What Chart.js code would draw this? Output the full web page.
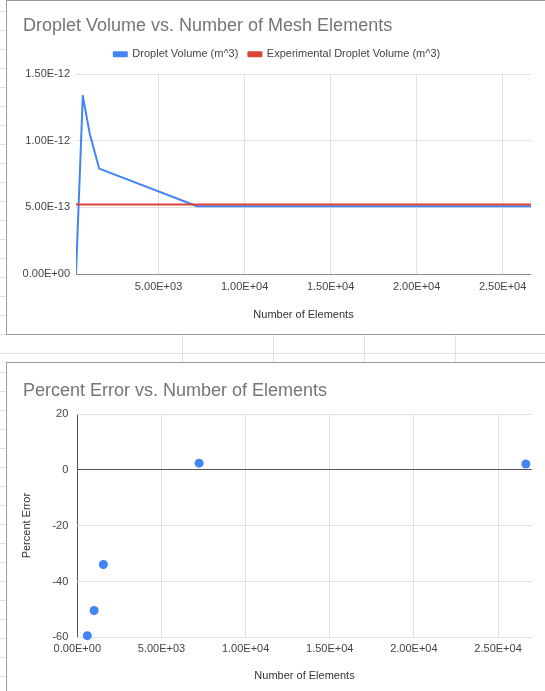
<!DOCTYPE html>
<html><head><meta charset="utf-8">
<script src="https://cdn.jsdelivr.net/npm/chart.js@4"></script>
<style>
html,body{margin:0;padding:0;width:545px;height:691px;overflow:hidden;background:#fff;position:relative;font-family:"Liberation Sans",Arial,sans-serif}
.hl{position:absolute;height:1px;background:#e2e2e2}
.vl{position:absolute;width:1px;background:#e2e2e2}
.card{position:absolute;left:6px;width:620px;border:1px solid #9a9a9a;background:#fff;box-sizing:border-box}
.card canvas{position:absolute;left:0;top:0}
</style></head>
<body>
<div id="bg"></div>
<div class="card" style="top:0;height:335px"><canvas id="c1" width="538" height="332"></canvas></div>
<div class="card" style="top:362px;height:340px"><canvas id="c2" width="538" height="328"></canvas></div>
<script>
// ---- data ----
const elements = [200, 595, 1000, 1550, 7240, 26650];
const dropletVolume = [0, 1.336e-12, 1.052e-12, 7.9e-13, 5.08e-13, 5.08e-13];
const experimentalVolume = [5.22e-13, 5.22e-13, 5.22e-13, 5.22e-13, 5.22e-13, 5.22e-13];
const errorElements = [595, 1000, 1550, 7240, 26650];
const percentError = [-59.4, -50.4, -33.9, 2.4, 2.1];
const volumeTicks = [0, 5e-13, 1e-12, 1.5e-12];
const elementTicks1 = [5000, 10000, 15000, 20000, 25000];
const elementTicks2 = [0, 5000, 10000, 15000, 20000, 25000];
const errorTicks = [-60, -40, -20, 0, 20];

// ---- spreadsheet background ----
const bg = document.getElementById('bg');
function addLine(cls, l, t, w, h){const d=document.createElement('div');d.className=cls;d.style.left=l+'px';d.style.top=t+'px';if(w)d.style.width=w+'px';if(h)d.style.height=h+'px';bg.appendChild(d);}
for(let k=-19;k<=18;k++){const y=353+19*k; if(y>0&&y<691) addLine('hl',0,y,6,0);}
addLine('hl',0,353,545,0);
[182,273,364,455].forEach(x=>addLine('vl',x,334,0,28));

function sci(v){
  if (Math.abs(v) < 1e-30) return '0.00E+00';
  const s = Number(v).toExponential(2);
  const parts = s.split('e');
  const n = parseInt(parts[1],10);
  return parts[0] + 'E' + (n<0?'-':'+') + String(Math.abs(n)).padStart(2,'0');
}

Chart.defaults.font.family = '"Liberation Sans", Arial, sans-serif';
Chart.defaults.font.size = 11;
Chart.defaults.color = '#444';

const titleFont = {size:18, weight:'normal', lineHeight:1.2};

new Chart(document.getElementById('c1'), {
  type: 'scatter',
  data: { datasets: [
    {label:'Droplet Volume (m^3)', data: elements.map((x,i)=>({x:x, y:dropletVolume[i]})), showLine:true,
     borderColor:'#4285f4', backgroundColor:'#4285f4', borderWidth:2, pointRadius:0, order:1, borderJoinStyle:'round'},
    {label:'Experimental Droplet Volume (m^3)', data: elements.map((x,i)=>({x:x, y:experimentalVolume[i]})), showLine:true,
     borderColor:'#db4437', backgroundColor:'#db4437', borderWidth:2, pointRadius:0, order:0, borderJoinStyle:'round'}
  ]},
  options: {
    responsive:false, animation:false,
    layout:{padding:{left:16, right:14, top:0, bottom:0}},
    plugins:{
      tooltip:{enabled:false},
      title:{display:true, text:'Droplet Volume vs. Number of Mesh Elements', align:'start', color:'#757575', font:titleFont, padding:{top:14.2, bottom:2}},
      legend:{position:'top', align:'center', labels:{boxWidth:13, boxHeight:4, color:'#444', font:{size:11}, padding:10,
        sort:(a,b)=>a.datasetIndex-b.datasetIndex}}
    },
    scales:{
      x:{type:'linear', min:elements[0], max:elements[elements.length-1],
         afterBuildTicks:s=>{s.ticks = elementTicks1.map(v=>({value:v}));},
         ticks:{callback:v=>sci(v), padding:6, maxRotation:0, autoSkip:false, color:'#444'},
         grid:{color:'#e0e0e0', drawTicks:false}, border:{display:false},
         title:{display:true, text:'Number of Elements', color:'#333', font:{size:11}, padding:{top:0,bottom:11.8}},
         afterFit:s=>{s.height=59;}},
      y:{min:0, max:1.5e-12,
         afterBuildTicks:s=>{s.ticks = volumeTicks.map(v=>({value:v}));},
         ticks:{callback:v=>sci(v), padding:6, color:'#444'},
         grid:{color:c=>(c.tick && Math.abs(c.tick.value)<1e-30)?'#8c8c8c':'#e0e0e0', drawTicks:false}, border:{display:false},
         afterFit:s=>{s.width=53;}}
    }
  },
  plugins:[{id:'legendGap', beforeInit(chart){ const lg = chart.legend; if(!lg) return; const orig = lg.fit; lg.fit = function(){ orig.call(this); this.height += 4.2; }; }}]
});

new Chart(document.getElementById('c2'), {
  type: 'scatter',
  data: { datasets: [
    {label:'Percent Error', data: errorElements.map((x,i)=>({x:x, y:percentError[i]})),
     backgroundColor:'#4285f4', borderColor:'#4285f4', borderWidth:0, pointRadius:4.5, clip:false}
  ]},
  options: {
    responsive:false, animation:false,
    layout:{padding:{left:16, right:13.3, top:0, bottom:0}},
    plugins:{
      tooltip:{enabled:false},
      legend:{display:false},
      title:{display:true, text:'Percent Error vs. Number of Elements', align:'start', color:'#757575', font:titleFont, padding:{top:17.2, bottom:12.2}}
    },
    scales:{
      x:{type:'linear', min:0, max:27000,
         afterBuildTicks:s=>{s.ticks = elementTicks2.map(v=>({value:v}));},
         ticks:{callback:v=>sci(v), padding:5, maxRotation:0, autoSkip:false, color:'#444'},
         grid:{color:c=>(c.tick && c.tick.value===0)?'#555':'#e0e0e0', drawTicks:false}, border:{display:false},
         title:{display:true, text:'Number of Elements', color:'#333', font:{size:11}, padding:{top:0,bottom:8.4}},
         afterFit:s=>{s.height=53.7;}},
      y:{min:-60, max:20,
         afterBuildTicks:s=>{s.ticks = errorTicks.map(v=>({value:v}));},
         ticks:{padding:9, color:'#444'},
         grid:{color:c=>(c.tick && c.tick.value===0)?'#555':'#e0e0e0', drawTicks:false}, border:{display:false},
         title:{display:true, text:'Percent Error', color:'#333', font:{size:11, lineHeight:0.8}, padding:0},
         afterFit:s=>{s.width=54.3;}}
    }
  }
});
</script>
</body></html>
